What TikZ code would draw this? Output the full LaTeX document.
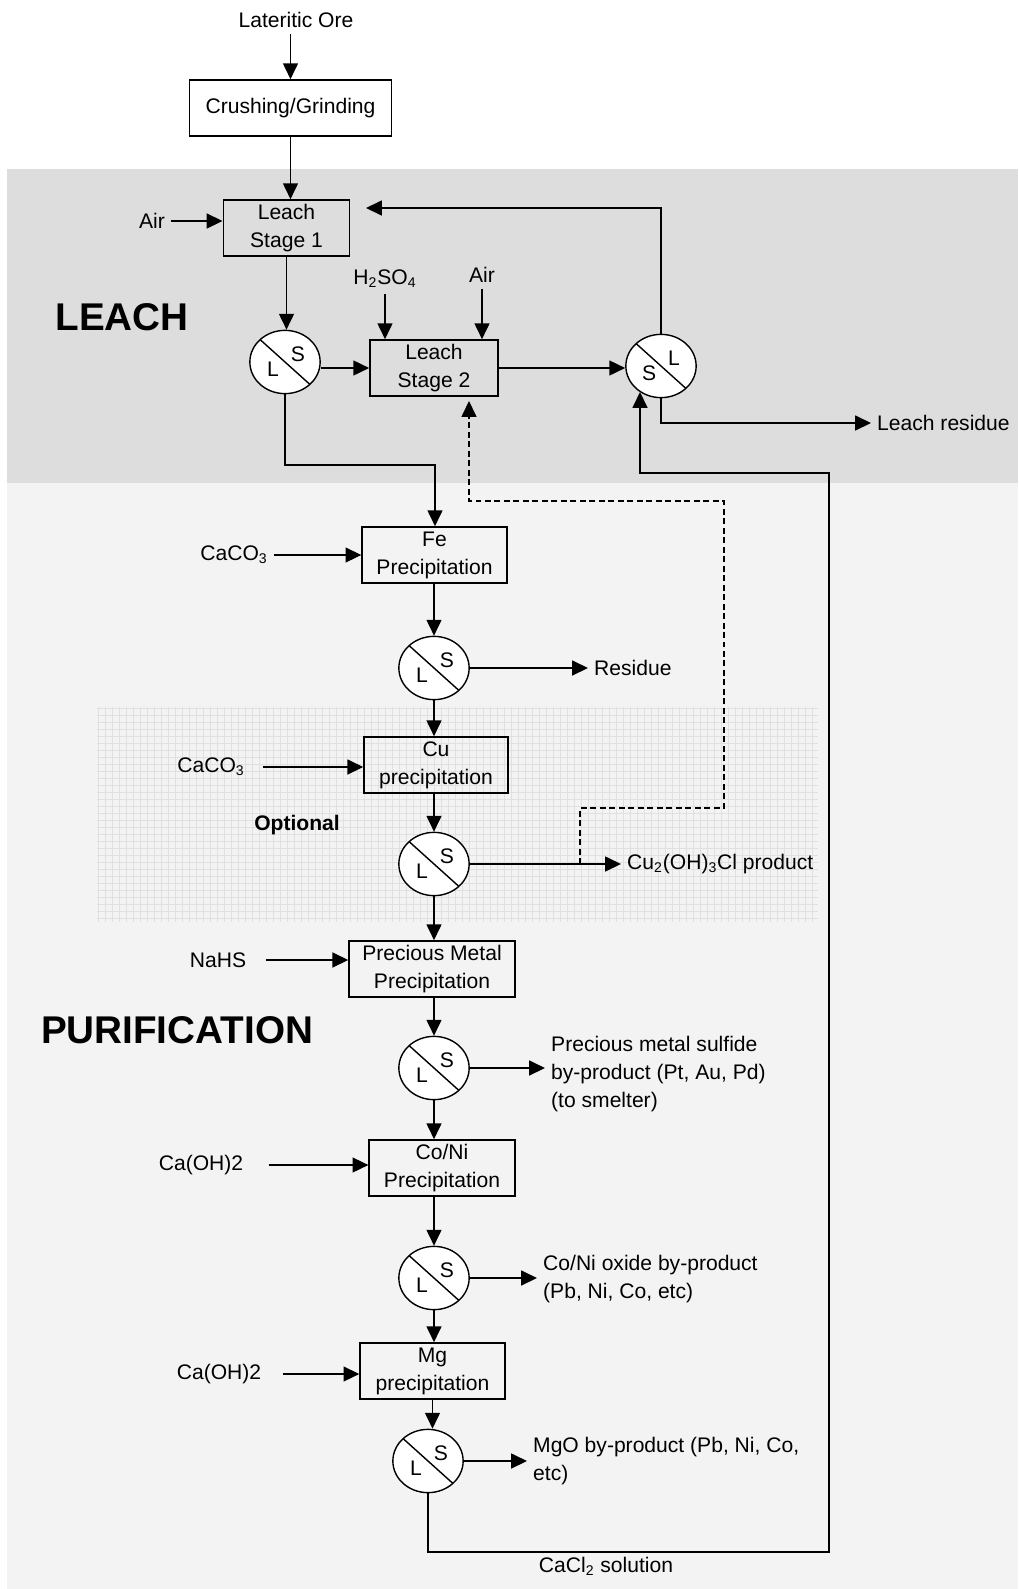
\documentclass[tikz,border=0pt]{standalone}
\usepackage{fontspec}
\setmainfont{Liberation Sans}
\usepackage{tikz}
\usetikzlibrary{arrows.meta, shapes.geometric, positioning}
\definecolor{leachgray}{RGB}{221,221,221}
\definecolor{purigray}{RGB}{243,243,243}
\definecolor{gridgray}{RGB}{224,224,224}

\begin{document}
\begin{tikzpicture}[
    x=0.02cm, y=-0.02cm,
    font=\fontsize{12}{16}\selectfont,
    unit/.style={rectangle, draw, line width=0.8pt, minimum height=32pt, inner sep=1pt, align=center},
    sep/.style 2 args={ellipse, draw, line width=0.8pt, fill=white, minimum width=40pt, minimum height=36pt, inner sep=0pt,
        path picture={
            \draw[line width=0.8pt] (path picture bounding box.north west) -- (path picture bounding box.south east);
            \node[draw=none, fill=none] at ([xshift=7.4pt, yshift=4.6pt]path picture bounding box.center) {#1};
            \node[draw=none, fill=none] at ([xshift=-6.8pt, yshift=-4pt]path picture bounding box.center) {#2};
        }},
    arrow/.style={-{Triangle[length=9pt, width=8.5pt]}, line width=0.8pt},
    recycle/.style={arrow, line width=0.7pt, dash pattern=on 3.4pt off 2pt},
    heading/.style={font=\fontsize{22}{26}\selectfont\bfseries},
    stream/.style={align=left, anchor=west},
    gridline/.style={gridgray, line width=0.45pt}
]
    \useasboundingbox (0,0) rectangle (1018,1589);

    % Backgrounds
    \fill[white] (0,0) rectangle (1018,1589);
    \fill[leachgray] (7,169) rectangle (1018,483);
    \fill[purigray] (7,483) rectangle (1018,1589);
    \foreach \gx in {98,105,...,818} \draw[gridline] (\gx,707) -- (\gx,922);
    \foreach \gy in {708,715,...,922} \draw[gridline] (97,\gy) -- (818,\gy);

    % Headings
    \node[heading] (leachhd) at (122,317) {LEACH};
    \node[heading] (purihd) at (177,1030) {PURIFICATION};
    \node[font=\fontsize{12}{16}\selectfont\bfseries] (opt) at (297,825) {Optional};

    % Leach nodes
    \node (ore) at (296,20) {Lateritic Ore};
    \node[unit, minimum width=115pt] (crush) at (290.5,108) {Crushing/Grinding};
    \node[unit, minimum width=72pt] (leach1) at (286.5,228) {Leach\\Stage 1};
    \node (air1) at (152,221) {Air};
    \node[sep={S}{L}] (s1) at (285,362) {};
    \node (acid) at (385,279) {H\textsubscript{2}SO\textsubscript{4}};
    \node (air2) at (482,275) {Air};
    \node[unit, minimum width=73pt] (leach2) at (434,368) {Leach\\Stage 2};
    \node[sep={L}{S}] (s3) at (661,366) {};
    \node[stream] (lres) at (871,423) {Leach residue};

    % Purification nodes
    \node[unit, minimum width=82.5pt] (fe) at (434.5,555) {Fe\\Precipitation};
    \node (caco1) at (234,555) {CaCO\textsubscript{3}};
    \node[sep={S}{L}] (s4) at (434,668) {};
    \node[stream] (res) at (588,668) {Residue};
    \node[unit, minimum width=82pt] (cu) at (436,765) {Cu\\precipitation};
    \node (caco2) at (211,767) {CaCO\textsubscript{3}};
    \node[sep={S}{L}] (s5) at (434,864) {};
    \node[stream] (cuprod) at (621,864) {Cu\textsubscript{2}(OH)\textsubscript{3}Cl product};
    \node[unit, minimum width=94.5pt] (pmp) at (432,969) {Precious Metal\\Precipitation};
    \node (nahs) at (218,960) {NaHS};
    \node[sep={S}{L}] (s6) at (434,1068) {};
    \node[stream] (pmprod) at (545,1074) {Precious metal sulfide\\by-product (Pt, Au, Pd)\\(to smelter)};
    \node[unit, minimum width=83pt] (coni) at (442,1168) {Co/Ni\\Precipitation};
    \node (caoh1) at (201,1165) {Ca(OH)2};
    \node[sep={S}{L}] (s7) at (434,1278) {};
    \node[stream] (coniprod) at (537,1279) {Co/Ni oxide by-product\\(Pb, Ni, Co, etc)};
    \node[unit, minimum width=82.5pt] (mg) at (432.5,1371) {Mg\\precipitation};
    \node (caoh2) at (219,1374) {Ca(OH)2};
    \node[sep={S}{L}] (s8) at (428,1461) {};
    \node[stream] (mgprod) at (527,1461) {MgO by-product (Pb, Ni, Co,\\etc)};
    \node (cacl) at (606,1566) {CaCl\textsubscript{2} solution};

    % Bend points
    \coordinate (ret1) at (366,208);
    \coordinate (j1) at (435,465);
    \coordinate (d1) at (580,864);
    \coordinate (d2) at (724,808);
    \coordinate (d3) at (469,501);
    \coordinate (ret2) at (469,401);
    \coordinate (loop1) at (829,1552);
    \coordinate (loop2) at (640,473);
    \coordinate (ret3) at (640,392);

    % Leach arrows
    \draw[arrow] (crush.north |- ore.south) -- (crush.north);
    \draw[arrow] (crush.south) -- (crush.south |- leach1.north);
    \draw[arrow] (air1) -- (air1 -| leach1.west);
    \draw[arrow] (leach1.south) -- (leach1.south |- s1.north);
    \draw[arrow] (s1.east |- leach2.west) -- (leach2.west);
    \draw[arrow] (acid) -- (acid |- leach2.north);
    \draw[arrow] (air2) -- (air2 |- leach2.north);
    \draw[arrow] (leach2.east) -- (leach2.east -| s3.west);
    \draw[arrow] (s3.north) |- (ret1);
    \draw[arrow] (s3.south) |- (lres.west);
    \draw[arrow] (s1.south) |- (j1) -- (j1 |- fe.north);

    % Purification arrows
    \draw[arrow] (caco1) -- (caco1 -| fe.west);
    \draw[arrow] (fe.south -| s4) -- (s4);
    \draw[arrow] (s4.east) -- (res.west);
    \draw[arrow] (s4) -- (s4 |- cu.north);
    \draw[arrow, shorten <=7pt] (caco2) -- (caco2 -| cu.west);
    \draw[arrow] (cu.south -| s5) -- (s5);
    \draw[arrow] (s5.east) -- (cuprod.west);
    \draw[arrow] (s5) -- (s5 |- pmp.north);
    \draw[arrow, shorten <=8pt] (nahs) -- (nahs -| pmp.west);
    \draw[arrow] (pmp.south -| s6) -- (s6);
    \draw[arrow] (s6.east) -- (s6.east -| pmprod.west);
    \draw[arrow] (s6) -- (s6 |- coni.north);
    \draw[arrow, shorten <=11pt] (caoh1) -- (caoh1 -| coni.west);
    \draw[arrow] (coni.south -| s7) -- (s7);
    \draw[arrow] (s7.east) -- (s7.east -| coniprod.west);
    \draw[arrow] (s7) -- (s7 |- mg.north);
    \draw[arrow, shorten <=9pt] (caoh2) -- (caoh2 -| mg.west);
    \draw[arrow] (mg.south) -- (mg.south |- s8.north);
    \draw[arrow] (s8.east) -- (s8.east -| mgprod.west);

    % Recycle streams
    \draw[recycle] (d1) |- (d2) |- (d3) -- (ret2);
    \draw[arrow] (s8.south) |- (loop1) |- (loop2) -- (ret3);
\end{tikzpicture}
\end{document}
